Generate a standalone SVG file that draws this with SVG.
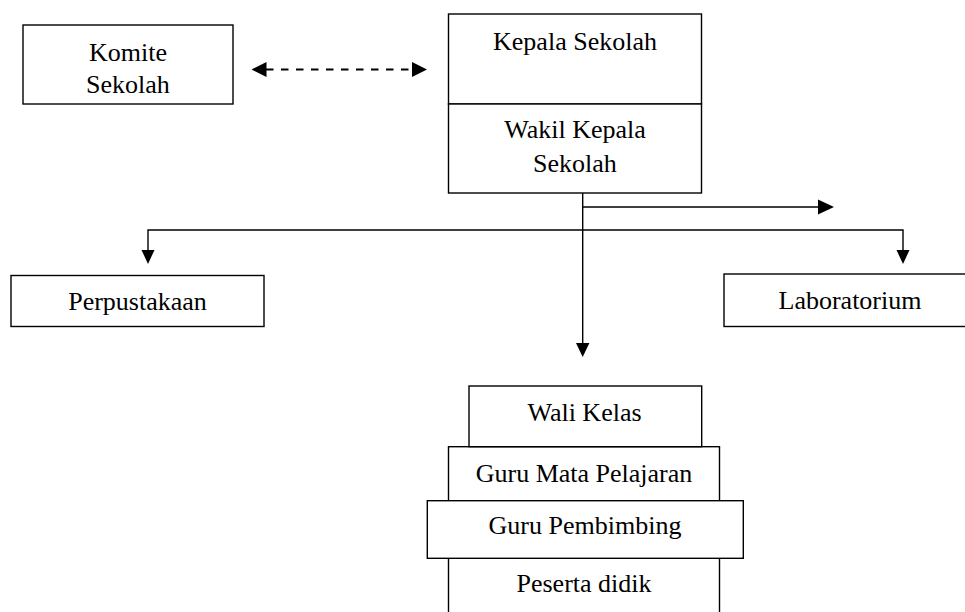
<svg xmlns="http://www.w3.org/2000/svg" width="965" height="612" viewBox="0 0 965 612">
<style>
.box{fill:#fff;stroke:#000;stroke-width:1.4}
.t{font-family:"Liberation Serif","Times New Roman",serif;font-size:26px;fill:#000;text-anchor:middle}
.ln{fill:none;stroke:#000;stroke-width:1.4}
.dash{fill:none;stroke:#000;stroke-width:1.8;stroke-dasharray:7.5 7.5}
.ah{fill:#000}
</style>
<rect width="965" height="612" fill="#fff"/>
<g id="connectors">
<line class="dash" x1="266" y1="69.5" x2="414" y2="69.5"/>
<polygon class="ah" points="251.5,69.5 266.5,62 266.5,77"/>
<polygon class="ah" points="427,69.5 412,62 412,77"/>
<line class="ln" x1="582.7" y1="193" x2="582.7" y2="344"/>
<polygon class="ah" points="576,343 589.4,343 582.7,357"/>
<line class="ln" x1="582.7" y1="207" x2="820" y2="207"/>
<polygon class="ah" points="834,207 818,199.5 818,214.5"/>
<polyline class="ln" points="148,251 148,230 903,230 903,251"/>
<polygon class="ah" points="141.5,250 154.5,250 148,264"/>
<polygon class="ah" points="896.5,250 909.5,250 903,264"/>
</g>
<g id="komite">
<rect class="box" x="23" y="25" width="210" height="79"/>
<text class="t" x="128" y="61">Komite</text>
<text class="t" x="128" y="93">Sekolah</text>
</g>
<g id="kepala">
<rect class="box" x="448.5" y="14" width="253" height="90"/>
<text class="t" x="575" y="50">Kepala Sekolah</text>
</g>
<g id="wakil">
<rect class="box" x="448.5" y="104" width="253" height="89"/>
<text class="t" x="575" y="138">Wakil Kepala</text>
<text class="t" x="575" y="172">Sekolah</text>
</g>
<g id="perpustakaan">
<rect class="box" x="11" y="275.5" width="253" height="51"/>
<text class="t" x="137.5" y="310">Perpustakaan</text>
</g>
<g id="laboratorium">
<rect class="box" x="724" y="274" width="250" height="52.5"/>
<text class="t" x="850" y="309">Laboratorium</text>
</g>
<g id="peserta">
<rect class="box" x="448.5" y="558.3" width="271" height="70"/>
<text class="t" x="584" y="591.5">Peserta didik</text>
</g>
<g id="guru-mapel">
<rect class="box" x="448.5" y="446.7" width="271" height="54"/>
<text class="t" x="584" y="481.5">Guru Mata Pelajaran</text>
</g>
<g id="wali-kelas">
<rect class="box" x="469" y="386" width="232.7" height="60.7"/>
<text class="t" x="584.5" y="421">Wali Kelas</text>
</g>
<g id="guru-pembimbing">
<rect class="box" x="427.3" y="500.7" width="316" height="57.6"/>
<text class="t" x="585" y="534">Guru Pembimbing</text>
</g>
</svg>
